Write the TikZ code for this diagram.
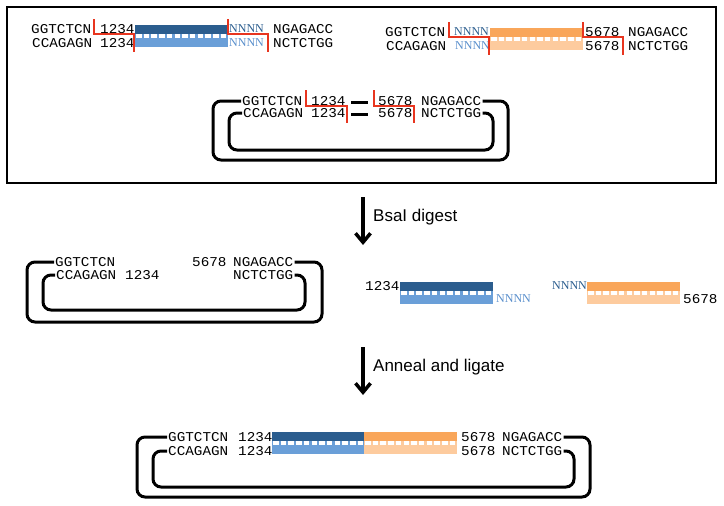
\documentclass[tikz,border=0pt]{standalone}
\usepackage{fontspec}
\usetikzlibrary{arrows.meta}
\newfontfamily\seqfam{Liberation Mono}[FakeStretch=1.06]
\newfontfamily\nfam{Liberation Serif}
\newfontfamily\lblfam{Liberation Sans}
\definecolor{dkblue}{HTML}{2B5D8E}
\definecolor{ltblue}{HTML}{6A9FD8}
\definecolor{nblue}{HTML}{5A8FCC}
\definecolor{dkorange}{HTML}{F9A65A}
\definecolor{ltorange}{HTML}{FDCB9E}
\definecolor{cutred}{HTML}{E8351F}
\tikzset{
  seq/.style={font=\seqfam\fontsize{13.5}{15}\selectfont, inner sep=0pt, anchor=west, text height=8.9pt, text depth=0pt},
  nseq/.style={font=\nfam\fontsize{12}{13}\selectfont, inner sep=0pt, anchor=west, text height=7.9pt, text depth=0pt},
  cut/.style={draw=cutred, line width=2pt},
  backbone/.style={draw, line width=3pt, rounded corners=8pt},
  stepline/.style={-{Straight Barb[length=9pt,width=15pt,line width=3.5pt]}, line width=3.5pt},
  lbl/.style={font=\lblfam\fontsize{17}{19}\selectfont, anchor=west, inner sep=0pt},
}
% duplex: x1, x2, top, top colour, bottom colour
\newcommand\duplex[5]{%
  \fill[#5] (#1,#3+9) rectangle (#2,#3+22);
  \fill[#4] (#1,#3) rectangle (#2,#3+9);
  \draw[white, line width=3.5pt, dash pattern=on 5.5pt off 2.2pt] (#1+1,#3+11) -- (#2-1,#3+11);
}

\begin{document}
\begin{tikzpicture}[x=1pt,y=-1pt]
    \useasboundingbox (0,0) rectangle (724,506);
    \draw[line width=2pt] (7,7) rectangle (716,183);

    % Part 1
    \duplex{135}{228}{25}{dkblue}{ltblue}
    \node[seq] (pa1) at (31,29) {GGTCTCN};
    \node[seq] (pa2) at (100,29) {1234};
    \node[nseq, text=dkblue] (pa3) at (229,29) {NNNN};
    \node[seq] (pa4) at (273,29) {NGAGACC};
    \node[seq] (pa5) at (32,43) {CCAGAGN};
    \node[seq] (pa6) at (100,43) {1234};
    \node[nseq, text=nblue] (pa7) at (229,43) {NNNN};
    \node[seq] (pa8) at (273,43) {NCTCTGG};
    \draw[cut] (94,19) -- (94,34) -- (134,34) -- (134,52);
    \draw[cut] (228,19) -- (228,34) -- (268,34) -- (268,52);

    % Part 2
    \duplex{490}{583}{28}{dkorange}{ltorange}
    \node[seq] (pb1) at (385,32) {GGTCTCN};
    \node[nseq, text=dkblue] (pb2) at (454,32) {NNNN};
    \node[seq] (pb3) at (585,32) {5678};
    \node[seq] (pb4) at (628,32) {NGAGACC};
    \node[seq] (pb5) at (386,46) {CCAGAGN};
    \node[nseq, text=nblue] (pb6) at (455,46) {NNNN};
    \node[seq] (pb7) at (585,46) {5678};
    \node[seq] (pb8) at (628,46) {NCTCTGG};
    \draw[cut] (449,22) -- (449,37) -- (489,37) -- (489,55);
    \draw[cut] (583,22) -- (583,37) -- (623,37) -- (623,55);

    % Vector
    \node[seq] (v1) at (242,101) {GGTCTCN};
    \node[seq] (v2) at (311,101) {1234};
    \node[seq] (v3) at (378,101) {5678};
    \node[seq] (v4) at (421,101) {NGAGACC};
    \node[seq] (v5) at (243,113) {CCAGAGN};
    \node[seq] (v6) at (311,113) {1234};
    \node[seq] (v7) at (378,113) {5678};
    \node[seq] (v8) at (421,113) {NCTCTGG};
    \draw[line width=3pt] (351,102) -- (368,102);
    \draw[line width=3pt] (351,114) -- (368,114);
    \draw[cut] (306,90) -- (306,106) -- (347,106) -- (347,123);
    \draw[cut] (374,90) -- (374,106) -- (414,106) -- (414,123);
    \draw[backbone] ([xshift=1pt]v4.east) -- (508,101) -- (508,160) -- (213,160) -- (213,101) -- ([xshift=-1pt]v1.west);
    \draw[backbone] ([xshift=1pt]v8.east) -- (493,113) -- (493,150) -- (229,150) -- (229,113) -- ([xshift=-1pt]v5.west);

    % Digest
    \coordinate (s1) at (363,197);
    \coordinate (e1) at (363,245);
    \draw[stepline] (s1) -- (e1);
    \node[lbl] (d1) at (373,217) {BsaI digest};

    \node[seq] (c1) at (55,262) {GGTCTCN};
    \node[seq] (c2) at (192,262) {5678};
    \node[seq] (c3) at (233,262) {NGAGACC};
    \node[seq] (c4) at (56,275) {CCAGAGN};
    \node[seq] (c5) at (125,275) {1234};
    \node[seq] (c6) at (233,275) {NCTCTGG};
    \draw[backbone] ([xshift=1pt]c3.east) -- (322,262) -- (322,322) -- (27,322) -- (27,262) -- ([xshift=-1pt]c1.west);
    \draw[backbone] ([xshift=1pt]c6.east) -- (305,275) -- (305,310) -- (43,310) -- (43,275) -- ([xshift=-1pt]c4.west);

    \duplex{400}{493}{282}{dkblue}{ltblue}
    \node[seq] (f1) at (365,286) {1234};
    \node[nseq, text=nblue] (f2) at (496,299) {NNNN};
    \duplex{587}{680}{282}{dkorange}{ltorange}
    \node[nseq, text=dkblue] (f3) at (552,286) {NNNN};
    \node[seq] (f4) at (683,299) {5678};

    % Ligation
    \coordinate (s2) at (363,347);
    \coordinate (e2) at (363,395);
    \draw[stepline] (s2) -- (e2);
    \node[lbl] (d2) at (373,367) {Anneal and ligate};

    \duplex{272}{364}{432}{dkblue}{ltblue}
    \duplex{364}{457}{432}{dkorange}{ltorange}
    \node[seq] (r1) at (168,437) {GGTCTCN};
    \node[seq] (r2) at (238,437) {1234};
    \node[seq] (r3) at (461,437) {5678};
    \node[seq] (r4) at (502,437) {NGAGACC};
    \node[seq] (r5) at (168,451) {CCAGAGN};
    \node[seq] (r6) at (238,451) {1234};
    \node[seq] (r7) at (461,451) {5678};
    \node[seq] (r8) at (502,451) {NCTCTGG};
    \draw[backbone] ([xshift=1pt]r4.east) -- (590,437) -- (590,497) -- (137,497) -- (137,437) -- ([xshift=-1pt]r1.west);
    \draw[backbone] ([xshift=1pt]r8.east) -- (574,451) -- (574,487) -- (153,487) -- (153,451) -- ([xshift=-1pt]r5.west);
\end{tikzpicture}
\end{document}
